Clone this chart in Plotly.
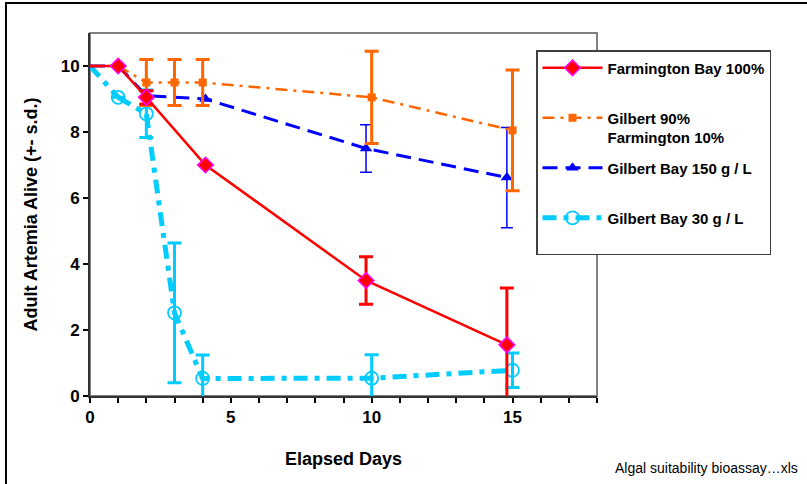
import plotly.graph_objects as go

# Data
fb_x = [0, 1, 2, 4.1, 9.8, 14.8]
fb_y = [10, 10, 9.05, 7.0, 3.5, 1.55]
fb_err = [0, 0, 0.2, 0, 0.72, 1.72]

g90_x = [0, 1, 2, 3, 4, 10, 15]
g90_y = [10, 10, 9.5, 9.5, 9.5, 9.05, 8.05]
g90_err = [0, 0, 0.7, 0.7, 0.7, 1.4, 1.83]

g150_x = [0, 1, 2, 4.1, 9.8, 14.8]
g150_y = [10, 10, 9.1, 9.0, 7.5, 6.62]
g150_err = [0, 0, 0, 0, 0.72, 1.52]

g30_x = [0, 1, 2, 3, 4, 10, 15]
g30_y = [10, 9.05, 8.55, 2.52, 0.53, 0.54, 0.78]
g30_err = [0, 0, 0.72, 2.12, 0.71, 0.71, 0.52]

FONT = "Arial, Liberation Sans, sans-serif"

series = [
    dict(x=g30_x, y=g30_y, err=g30_err, name="Gilbert Bay 30 g / L<br> ", grp="d", rank=4,
         line=dict(color="#00ccff", width=5, dash="14px,7px,5px,7px"),
         marker=dict(symbol="circle-open", size=13, color="#00ccff", line=dict(width=1.8)),
         ethick=3, ewidth=7),
    dict(x=g150_x, y=g150_y, err=g150_err, name="Gilbert Bay 150 g / L<br> ", grp="c", rank=3,
         line=dict(color="#0000ff", width=3, dash="15px,8px"),
         marker=dict(symbol="triangle-up", size=11, color="#0000ff"),
         ethick=1.5, ewidth=6),
    dict(x=g90_x, y=g90_y, err=g90_err, name="Gilbert 90%<br>Farmington 10%", grp="b", rank=2,
         line=dict(color="#ff6600", width=2.5, dash="12px,6px,3px,6px"),
         marker=dict(symbol="square", size=8, color="#ff6600"),
         ethick=3, ewidth=7),
    dict(x=fb_x, y=fb_y, err=fb_err, name="Farmington Bay 100%<br> ", grp="a", rank=1,
         line=dict(color="#ff0000", width=2.5),
         marker=dict(symbol="diamond", size=12, color="#ff0000", line=dict(color="#ff00ff", width=1.5)),
         ethick=3, ewidth=7),
]

fig = go.Figure()
for s in series:
    # start segment (day 0, no marker)
    fig.add_trace(go.Scatter(
        x=s["x"][:2], y=s["y"][:2], mode="lines", line=s["line"],
        showlegend=False, hoverinfo="skip", legendgroup=s["grp"], cliponaxis=False,
    ))
    fig.add_trace(go.Scatter(
        x=s["x"][1:], y=s["y"][1:], name=s["name"], legendgroup=s["grp"], legendrank=s["rank"],
        mode="lines+markers", line=s["line"], marker=s["marker"],
        error_y=dict(type="data", array=s["err"][1:], color=s["line"]["color"],
                     thickness=s["ethick"], width=s["ewidth"]),
        cliponaxis=False,
    ))

fig.update_layout(
    width=807, height=484,
    margin=dict(l=90, r=210, t=33, b=88),
    paper_bgcolor="white", plot_bgcolor="white",
    font=dict(family=FONT, color="black"),
    showlegend=True,
    legend=dict(
        x=0.8797, y=0.953, xanchor="left", yanchor="top",
        bordercolor="#404040", borderwidth=1.5, bgcolor="white",
        font=dict(family=FONT, size=15, color="black", weight="bold"),
        tracegroupgap=8, itemwidth=60, traceorder="grouped", valign="top",
    ),
    xaxis=dict(
        range=[0, 18], dtick=5, tick0=0,
        ticks="outside", ticklen=5, tickwidth=1.5, tickcolor="black",
        minor=dict(dtick=1, ticks="outside", ticklen=5, tickwidth=1.5, tickcolor="black"),
        showgrid=False, zeroline=False,
        showline=True, linecolor="#333333", linewidth=2,
        tickfont=dict(family=FONT, size=17, weight="bold"),
        title=dict(text="Elapsed Days", font=dict(family=FONT, size=18, weight="bold"), standoff=26),
    ),
    yaxis=dict(
        range=[0, 11], dtick=2, tick0=0,
        ticks="outside", ticklen=5, tickwidth=1.5, tickcolor="black",
        showgrid=False, zeroline=False,
        showline=True, linecolor="#333333", linewidth=2,
        tickfont=dict(family=FONT, size=17, weight="bold"),
        title=dict(text="Adult Artemia Alive (+- s.d.)", font=dict(family=FONT, size=18, weight="bold"), standoff=18),
    ),
    shapes=[
        dict(type="rect", xref="paper", yref="paper", x0=0, x1=1, y0=0, y1=1,
             line=dict(color="#808080", width=2), layer="below"),
        dict(type="rect", xref="paper", yref="paper", x0=-0.1657, x1=1.45, y0=-0.26, y1=1.0826,
             line=dict(color="black", width=2), layer="below"),
    ],
    annotations=[
        dict(text="Algal suitability bioassay…xls", xref="paper", yref="paper",
             x=1.4004, y=-0.198, xanchor="right", yanchor="middle", showarrow=False,
             font=dict(family=FONT, size=14, color="black")),
    ],
)

fig.write_html("out.html", config={"displayModeBar": False},
               post_script="document.body.style.margin='0';document.body.style.overflow='hidden';")
